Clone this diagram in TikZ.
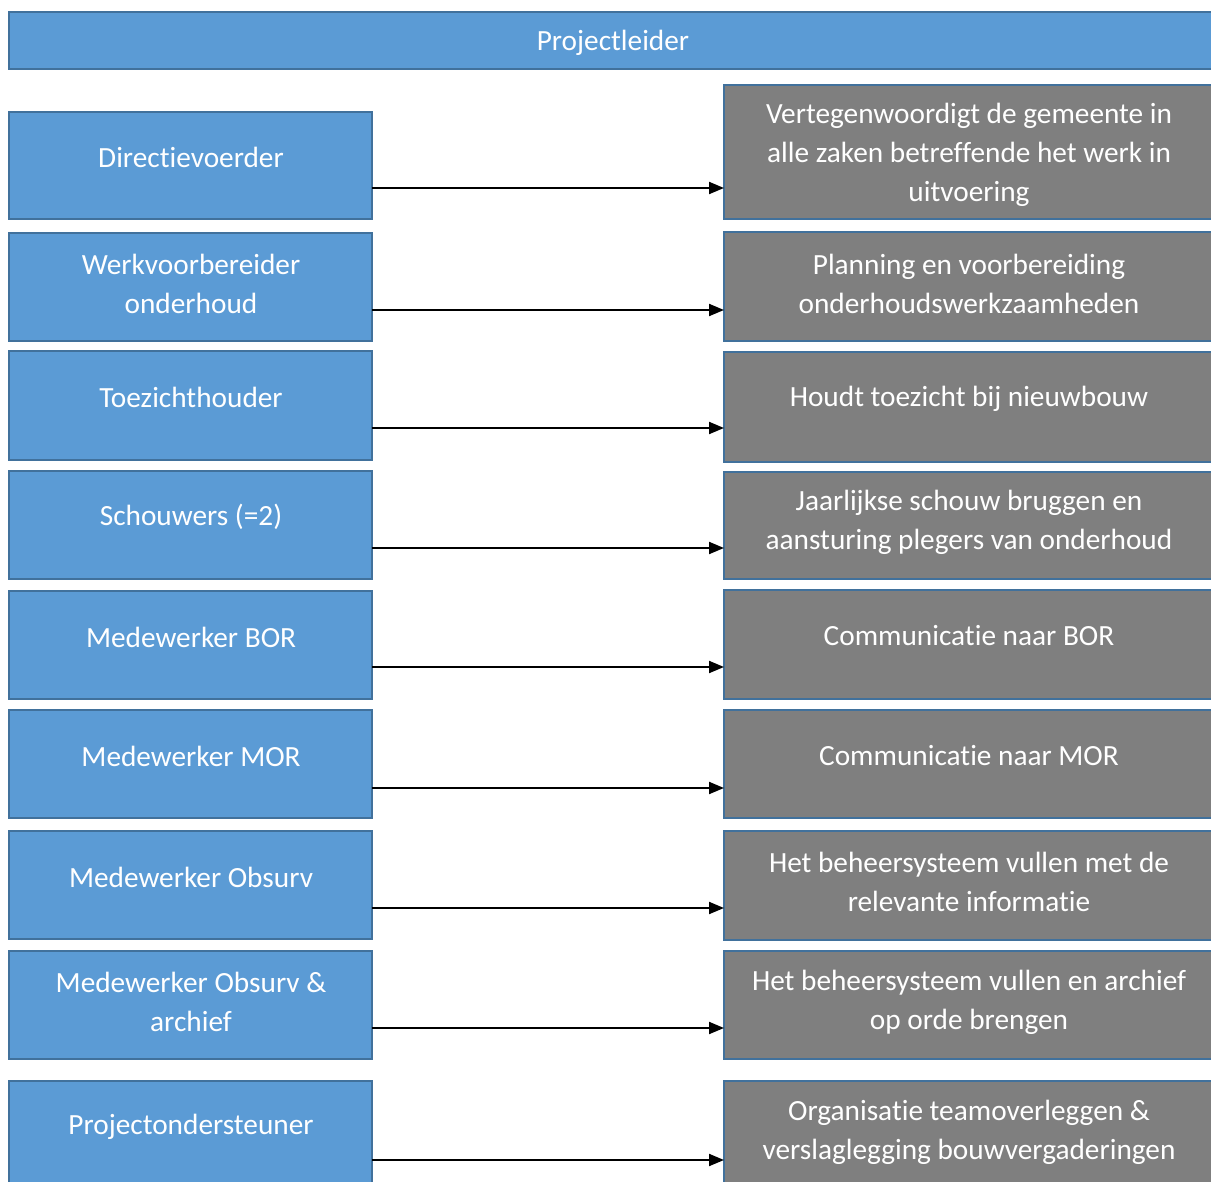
\documentclass[tikz,border=0pt]{standalone}
\usepackage{fontspec}
\setmainfont{Carlito}[Ligatures={NoCommon}]
\usetikzlibrary{arrows.meta}
\definecolor{boxblue}{HTML}{5B9BD5}
\definecolor{edgeblue}{HTML}{41719C}
\definecolor{boxgray}{HTML}{7F7F7F}
\tikzset{
  box/.style={draw=edgeblue, line width=2pt, anchor=north west, inner sep=0pt, outer sep=0pt},
  lbox/.style={box, fill=boxblue, minimum width=363pt},
  rbox/.style={box, fill=boxgray, minimum width=491pt},
  txt/.style={text=white, font=\fontsize{29.3}{39}\selectfont, align=center, inner sep=0pt},
  arr/.style={line width=2pt, -{Triangle[length=15pt,width=12pt]}},
}
\begin{document}
\begin{tikzpicture}[x=1pt,y=-1pt]
\useasboundingbox (0,0) rectangle (1211,1182);
\clip (0,0) rectangle (1211,1182);
\fill[white] (0,0) rectangle (1211,1182);
% top bar
\node[box, fill=boxblue, minimum width=1206pt, minimum height=57pt] (top) at (9,12) {};
\node[txt] (ttop) at (613,43) {Projectleider};
% row 1
\node[lbox, minimum height=107pt] (L1) at (9,112) {};
\node[rbox, minimum height=134pt] (R1) at (724,85) {};
\node[txt] (tL1) at (191,157) {Directievoerder};
\node[txt] (tR1) at (969,155) {Vertegenwoordigt de gemeente in\\alle zaken betreffende het werk in\\uitvoering};
\draw[arr] (L1.east |- 0,188) -- (R1.west |- 0,188);
% row 2
\node[lbox, minimum height=108pt] (L2) at (9,233) {};
\node[rbox, minimum height=109pt] (R2) at (724,232) {};
\node[txt] (tL2) at (191,284) {Werkvoorbereider\\onderhoud};
\node[txt] (tR2) at (969,284) {Planning en voorbereiding\\onderhoudswerkzaamheden};
\draw[arr] (L2.east |- 0,310) -- (R2.west |- 0,310);
% row 3
\node[lbox, minimum height=109pt] (L3) at (9,351) {};
\node[rbox, minimum height=110pt] (R3) at (724,352) {};
\node[txt] (tL3) at (191,397) {Toezichthouder};
\node[txt] (tR3) at (969,399) {Houdt toezicht bij nieuwbouw};
\draw[arr] (L3.east |- 0,428) -- (R3.west |- 0,428);
% row 4
\node[lbox, minimum height=108pt] (L4) at (9,471) {};
\node[rbox, minimum height=107pt] (R4) at (724,472) {};
\node[txt] (tL4) at (191,517) {Schouwers (=2)};
\node[txt] (tR4) at (969,522) {Jaarlijkse schouw bruggen en\\aansturing plegers van onderhoud};
\draw[arr] (L4.east |- 0,548) -- (R4.west |- 0,548);
% row 5
\node[lbox, minimum height=108pt] (L5) at (9,591) {};
\node[rbox, minimum height=109pt] (R5) at (724,590) {};
\node[txt] (tL5) at (191,637) {Medewerker BOR};
\node[txt] (tR5) at (969,636) {Communicatie naar BOR};
\draw[arr] (L5.east |- 0,667) -- (R5.west |- 0,667);
% row 6
\node[lbox, minimum height=108pt] (L6) at (9,710) {};
\node[rbox, minimum height=108pt] (R6) at (724,710) {};
\node[txt] (tL6) at (191,756) {Medewerker MOR};
\node[txt] (tR6) at (969,756) {Communicatie naar MOR};
\draw[arr] (L6.east |- 0,788) -- (R6.west |- 0,788);
% row 7
\node[lbox, minimum height=108pt] (L7) at (9,831) {};
\node[rbox, minimum height=109pt] (R7) at (724,831) {};
\node[txt] (tL7) at (191,877) {Medewerker Obsurv};
\node[txt] (tR7) at (969,882) {Het beheersysteem vullen met de\\relevante informatie};
\draw[arr] (L7.east |- 0,908) -- (R7.west |- 0,908);
% row 8
\node[lbox, minimum height=108pt] (L8) at (9,951) {};
\node[rbox, minimum height=108pt] (R8) at (724,951) {};
\node[txt] (tL8) at (191,1002) {Medewerker Obsurv \&\\archief};
\node[txt] (tR8) at (969,1002) {Het beheersysteem vullen en archief\\op orde brengen};
\draw[arr] (L8.east |- 0,1028) -- (R8.west |- 0,1028);
% row 9
\node[lbox, minimum height=115pt] (L9) at (9,1081) {};
\node[rbox, minimum height=115pt] (R9) at (724,1081) {};
\node[txt] (tL9) at (191,1127) {Projectondersteuner};
\node[txt] (tR9) at (969,1132) {Organisatie teamoverleggen \&\\verslaglegging bouwvergaderingen};
\draw[arr] (L9.east |- 0,1160) -- (R9.west |- 0,1160);
\end{tikzpicture}
\end{document}
